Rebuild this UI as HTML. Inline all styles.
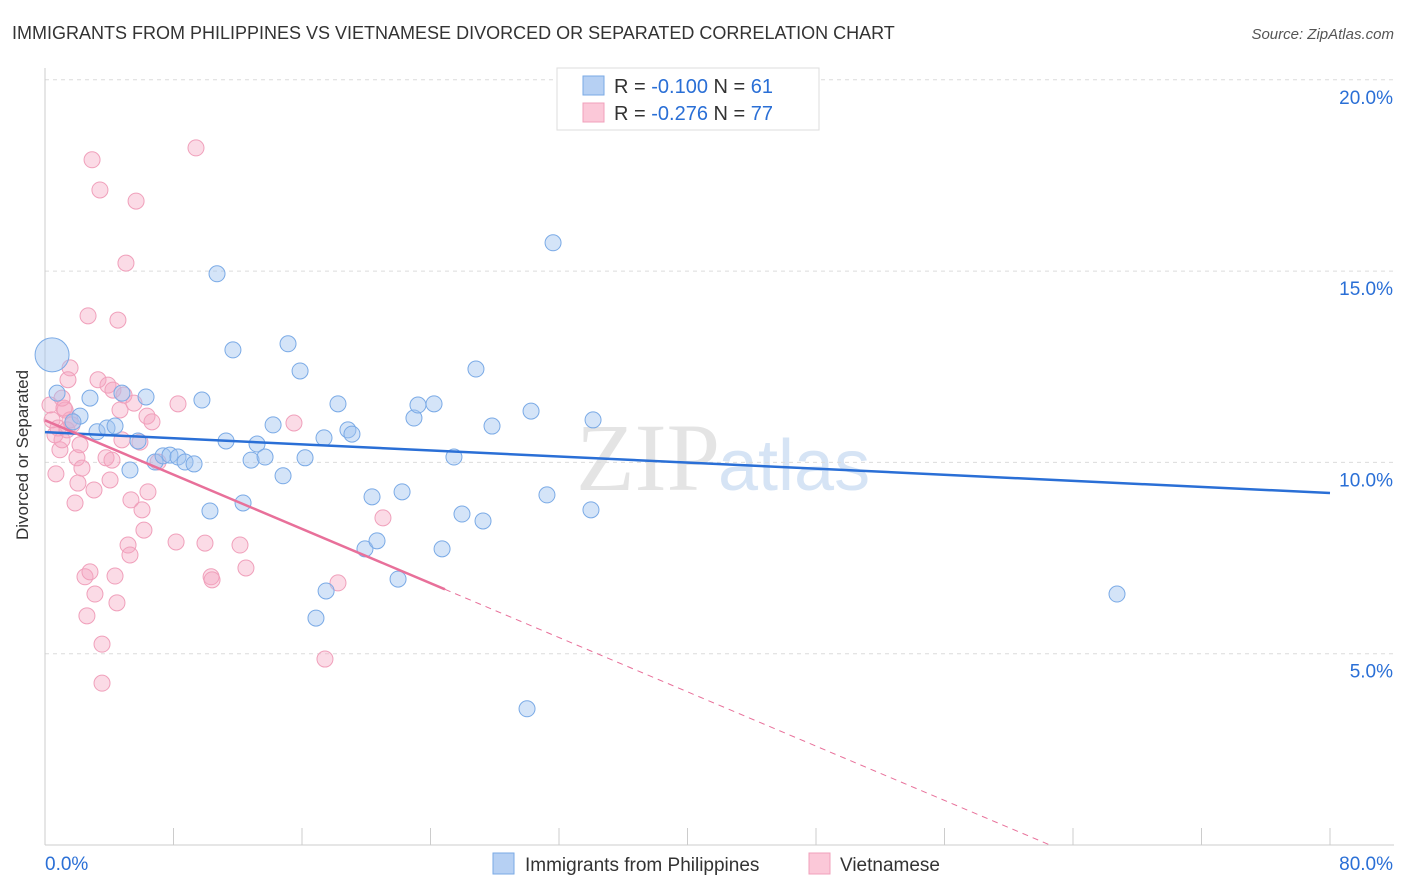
<!DOCTYPE html>
<html><head><meta charset="utf-8"><style>
body{margin:0;background:#fff;font-family:"Liberation Sans",sans-serif;}
svg{display:block}
</style></head><body>
<svg id="chart" width="1406" height="892" xmlns="http://www.w3.org/2000/svg">
<text x="12" y="39" font-size="18" fill="#333">IMMIGRANTS FROM PHILIPPINES VS VIETNAMESE DIVORCED OR SEPARATED CORRELATION CHART</text>
<text x="1394" y="39" font-size="15" fill="#555" font-style="italic" text-anchor="end">Source: ZipAtlas.com</text>
<text x="720" y="490" font-size="96" fill="#e4e4e4" text-anchor="end" font-family="Liberation Serif,serif">ZIP</text>
<text x="718" y="490" font-size="72" fill="#d6e4f5">atlas</text>
<g id="grid"></g><g id="axes"></g>
<g id="pts-pink"></g><g id="pts-blue"></g><g id="trends"></g>
<text x="28" y="455" font-size="17" fill="#333" text-anchor="middle" transform="rotate(-90 28 455)">Divorced or Separated</text>
<g>
<rect x="557" y="68" width="262" height="62" fill="#fff" stroke="#ddd"/>
<rect x="583" y="76" width="21" height="19" fill="#b6d0f3" stroke="#7aaae6"/>
<text x="614" y="93" font-size="20" fill="#333">R = <tspan fill="#2a6fd6">-0.100</tspan>   N = <tspan fill="#2a6fd6"> 61</tspan></text>
<rect x="583" y="103" width="21" height="19" fill="#fbc8d8" stroke="#f0a0bb"/>
<text x="614" y="120" font-size="20" fill="#333">R = <tspan fill="#2a6fd6">-0.276</tspan>   N = <tspan fill="#2a6fd6">77</tspan></text>
</g>
<g>
<rect x="493" y="853" width="21" height="21" fill="#b6d0f3" stroke="#7aaae6"/>
<text x="525" y="871" font-size="19" fill="#333">Immigrants from Philippines</text>
<rect x="809" y="853" width="21" height="21" fill="#fbc8d8" stroke="#f0a0bb"/>
<text x="840" y="871" font-size="19" fill="#333">Vietnamese</text>
</g>
</svg>
<script>
const xTicks=[0,8,16,24,32,40,48,56,64,72,80];
const yTicks=[5,10,15,20];
const blueX=[0.44,0.75,2.18,1.74,3.24,3.86,4.36,2.80,4.79,6.29,5.29,5.79,6.85,7.35,7.78,8.28,8.72,9.28,9.77,10.27,10.71,11.27,11.70,12.33,12.83,13.20,13.70,14.20,14.82,15.13,15.88,16.19,17.37,17.50,16.87,18.24,18.86,19.11,19.92,20.36,20.67,21.98,22.23,22.97,23.22,24.22,24.72,25.46,25.96,26.83,27.27,27.83,30.01,30.26,31.25,31.63,33.99,34.12,47.63,66.74];
const blueY=[12.81,11.81,11.21,11.06,10.80,10.90,10.95,11.68,11.81,11.71,9.80,10.56,10.01,10.17,10.19,10.14,10.01,9.96,11.63,8.73,14.93,10.56,12.94,8.94,10.06,10.48,10.14,10.98,9.65,13.10,12.39,10.12,10.64,6.64,5.93,11.53,10.85,10.74,7.74,9.10,7.95,6.95,9.23,11.16,11.50,11.53,7.74,10.14,8.65,12.44,8.47,10.95,3.56,11.34,9.15,15.74,8.76,11.11,20.0,6.56];
const pinkX=[0.31,0.44,0.62,0.68,0.81,0.93,1.06,1.25,1.37,1.56,1.56,1.68,1.87,1.99,2.05,2.18,2.30,2.49,2.61,2.68,2.80,2.93,3.05,3.11,3.30,3.42,3.55,3.55,3.80,3.92,4.05,4.17,4.23,4.36,4.48,4.54,4.67,4.79,4.92,5.04,5.17,5.29,5.35,5.54,5.67,5.91,6.04,6.16,6.35,6.41,6.66,7.04,8.16,8.28,9.40,9.96,10.34,10.40,12.14,12.51,15.50,17.43,18.24,21.04,1.18,1.43,1.06];
const pinkY=[11.50,11.11,10.72,9.70,10.90,10.33,10.59,11.37,10.85,11.11,12.47,10.98,8.94,10.12,9.46,10.46,9.85,7.01,5.99,13.83,7.14,17.91,9.28,6.56,12.16,17.12,5.25,4.23,10.12,12.02,9.54,10.06,11.89,7.03,6.33,13.72,11.37,10.59,11.76,15.21,7.84,7.58,9.02,11.55,16.83,10.53,8.76,8.23,11.21,9.23,11.06,10.01,7.92,11.53,18.22,7.89,7.01,6.93,7.84,7.24,11.03,4.86,6.85,8.55,11.42,12.16,11.68];
const blueTrend=[10.79,9.2];
const pinkTrend=[11.1,0];
const X0=45,X1=1330,Y0=845,PX_PER=38.26;
const sx=v=>X0+(v/80)*(X1-X0);
const sy=v=>Y0-v*PX_PER;
const NS="http://www.w3.org/2000/svg";
function mk(tag,attrs,parent){const e=document.createElementNS(NS,tag);for(const k in attrs)e.setAttribute(k,attrs[k]);parent.appendChild(e);return e;}
const grid=document.getElementById('grid'),axes=document.getElementById('axes');
yTicks.forEach(t=>{
 const l=mk('line',{x1:45,x2:1394,y1:sy(t),y2:sy(t),stroke:'#dcdcdc','stroke-dasharray':'4 4'},grid);
 
 
 const tx=mk('text',{x:1393,y:sy(t)+24,'font-size':19,fill:'#2a6fd6','text-anchor':'end'},axes);
 tx.textContent=t.toFixed(1)+'%';
 
 
});
const ax=mk('line',{x1:45,x2:1394,y1:Y0,y2:Y0,stroke:'#ccc'},axes);


const ay=mk('line',{x1:45,x2:45,y1:68,y2:Y0,stroke:'#ccc'},axes);


xTicks.forEach(t=>{
 const l=mk('line',{x1:sx(t),x2:sx(t),y1:828,y2:Y0,stroke:'#ccc'},axes);
 
 
});
[[0,'start',45],[80,'end',1393]].forEach(([v,a,x])=>{
 const tx=mk('text',{x:x,y:870,'font-size':19,fill:'#2a6fd6','text-anchor':a},axes);
 tx.textContent=v.toFixed(1)+'%';
 
 
});
const pp=document.getElementById('pts-pink'),pb=document.getElementById('pts-blue');
pinkX.forEach((v,i)=>{
 const c=mk('circle',{cx:sx(v),cy:sy(pinkY[i]),r:8,fill:'rgba(245,165,192,0.4)',stroke:'#f0a0bb','stroke-width':1},pp);
 
 
});
blueX.forEach((v,i)=>{
 const c=mk('circle',{cx:sx(v),cy:sy(blueY[i]),r:i===0?17:8,fill:'rgba(160,196,240,0.45)',stroke:'#7aaae6','stroke-width':1},pb);
 
 
});
const tr=document.getElementById('trends');
const bl=mk('line',{x1:sx(0),y1:sy(blueTrend[0]),x2:sx(80),y2:sy(blueTrend[1]),stroke:'#2a6fd6','stroke-width':2.5},tr);


const pAt=x=>pinkTrend[0]+(pinkTrend[1]-pinkTrend[0])*x/((1050-45)/1285*80);
const xs=24.9,xe=(1050-45)/1285*80;
const pl=mk('line',{x1:sx(0),y1:sy(pAt(0)),x2:sx(xs),y2:sy(pAt(xs)),stroke:'#e8709a','stroke-width':2.5},tr);


const pd=mk('line',{x1:sx(xs),y1:sy(pAt(xs)),x2:sx(xe),y2:sy(pAt(xe)),stroke:'#e8709a','stroke-width':1,'stroke-dasharray':'6 5'},tr);


</script>
</body></html>
